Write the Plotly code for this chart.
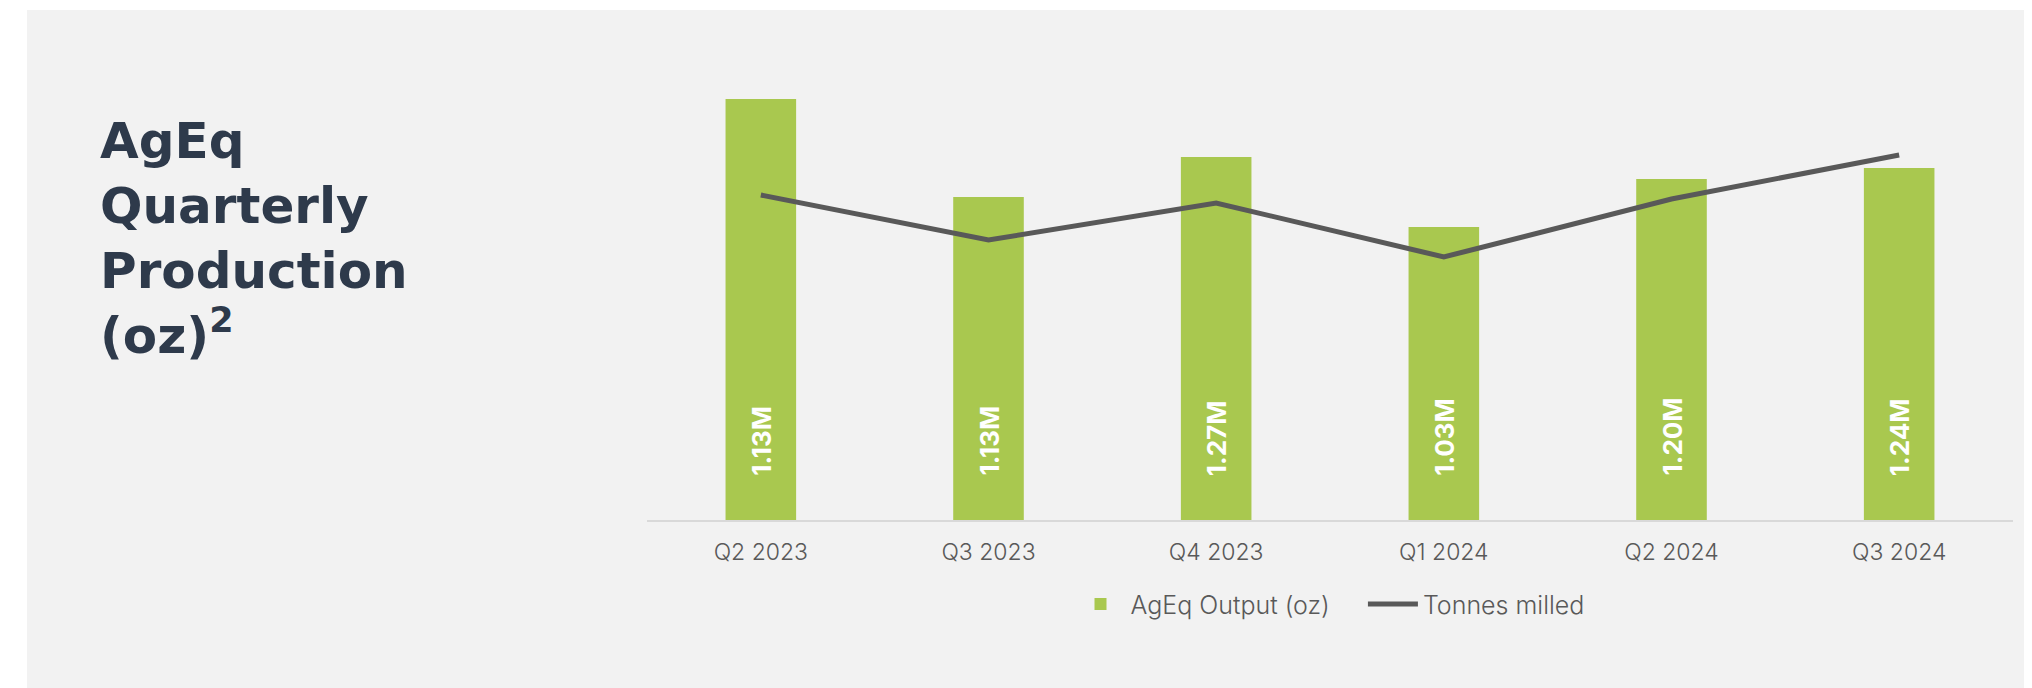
import plotly.graph_objects as go

categories = ["Q2 2023", "Q3 2023", "Q4 2023", "Q1 2024", "Q2 2024", "Q3 2024"]
agEq_output = [421, 323, 363, 293, 341, 352]          # bar heights (chart units)
agEq_labels = ["1.13M", "1.13M", "1.27M", "1.03M", "1.20M", "1.24M"]
tonnes_milled = [325, 280, 317, 263, 321, 365]         # line (chart units)

GREEN = "#A9C84F"
LINE = "#595959"
TXT = "#595959"
NAVY = "#2E3A4B"
FONT = "Inter"

# figure geometry (page has an 8px body margin)
W, H = 2024, 680
L, R_EDGE, BASE = 639, 2005, 512
PW = R_EDGE - L
PH = 450

fig = go.Figure()
fig.add_trace(go.Bar(
    x=categories, y=agEq_output, name="AgEq Output (oz)\u00a0\u00a0\u00a0\u00a0",
    marker=dict(color=GREEN, line=dict(width=0)), width=0.31,
))
fig.add_trace(go.Scatter(
    x=categories, y=tonnes_milled, name="Tonnes milled", mode="lines",
    line=dict(color=LINE, width=5), yaxis="y2",
))

annotations = []
for c, lab in zip(categories, agEq_labels):
    annotations.append(dict(
        x=c, y=42, xref="x", yref="y", text=f"<b>{lab}</b>", showarrow=False,
        textangle=-90, yanchor="bottom", xanchor="center",
        font=dict(family=FONT, size=26, color="white"),
    ))
annotations.append(dict(
    xref="paper", yref="paper", x=(90 - L) / PW, y=(BASE - 102) / PH,
    xanchor="left", yanchor="top", align="left", showarrow=False,
    text="<b>AgEq<br>Quarterly<br>Production<br>(oz)<sup>2</sup></b>",
    font=dict(family="DejaVu Sans", size=50, color=NAVY),
))

fig.update_layout(
    width=W, height=H,
    margin=dict(l=L, r=W - R_EDGE, t=BASE - PH, b=H - BASE),
    paper_bgcolor="white", plot_bgcolor="rgba(0,0,0,0)",
    showlegend=True,
    legend=dict(orientation="h", x=0.5, xanchor="center", y=-0.187, yanchor="middle",
                font=dict(family=FONT, size=25, color=TXT, weight=300),
                bgcolor="rgba(0,0,0,0)", itemwidth=50, traceorder="normal"),
    xaxis=dict(showline=True, linecolor="#D9D9D9", linewidth=2, showgrid=False,
               ticks="outside", ticklen=10, tickcolor="rgba(0,0,0,0)",
               tickfont=dict(family=FONT, size=23, color=TXT, weight=300), range=[-0.5, 5.5]),
    yaxis=dict(range=[0, PH], visible=False, showgrid=False),
    yaxis2=dict(range=[0, PH], visible=False, overlaying="y", showgrid=False),
    annotations=annotations,
    shapes=[dict(type="rect", xref="paper", yref="paper", layer="below",
                 x0=(19 - L) / PW, x1=(W + 10 - L) / PW,
                 y0=(BASE - H - 10) / PH, y1=(BASE - 2) / PH,
                 fillcolor="#F2F2F2", line=dict(width=0))],
)

fig.write_html("out.html")
